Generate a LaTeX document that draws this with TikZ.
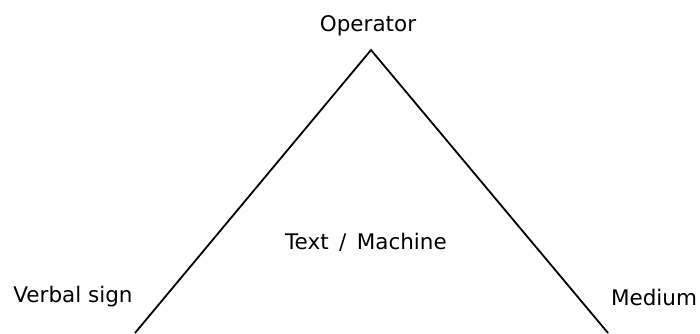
\documentclass[tikz,border=0pt]{standalone}
\usepackage{fontspec}
\setmainfont{DejaVu Sans}
\begin{document}
\begin{tikzpicture}[x=1pt,y=-1pt,
  label text/.style={font=\fontsize{21.5}{25}\selectfont, inner sep=0pt, anchor=center},
  side/.style={line width=1.8pt, line join=miter}]
  \useasboundingbox (0,0) rectangle (700,333);
  % triangle sides, open at the bottom edge
  \coordinate (apex) at (371,50);
  \coordinate (baseL) at (135,333);
  \coordinate (baseR) at (608,333);
  \draw[side] (baseL) -- (apex) -- (baseR);
  % corner and centre labels
  \node[label text] (operator) at (368,26) {Operator};
  \node[label text] (centre) at (366,242) {Text \,/\, Machine};
  \node[label text] (verbal) at (73,297) {Verbal sign};
  \node[label text] (medium) at (654,297) {Medium};
\end{tikzpicture}
\end{document}
